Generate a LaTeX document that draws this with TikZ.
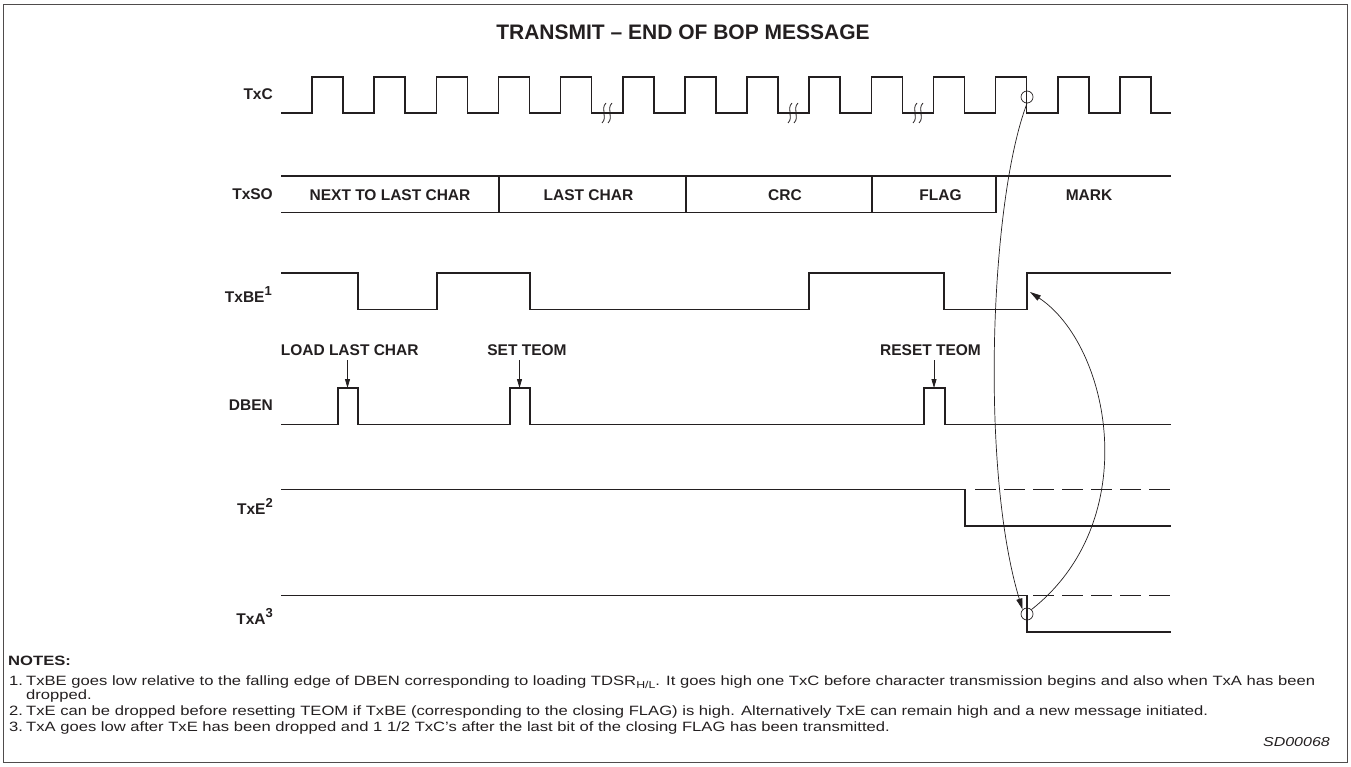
\documentclass[tikz,border=0pt]{standalone}
\usepackage{fontspec}
\setmainfont{Liberation Sans}
\newfontfamily\notefont[FakeStretch=1.23]{Liberation Sans}
\usepackage{tikz}
\usetikzlibrary{arrows.meta,positioning}
\definecolor{ink}{RGB}{35,31,32}
\tikzset{
	signal/.style={draw=ink, line width=1.6pt, line join=miter},
	sigdash/.style={draw=ink, line width=1.6pt, dash pattern=on 21pt off 8pt},
	signame/.style={anchor=base east, inner sep=0pt, text=ink, font=\fontsize{15.5}{18}\selectfont\bfseries},
	busname/.style={anchor=base, inner sep=0pt, text=ink, font=\fontsize{15.5}{18}\selectfont\bfseries},
	event/.style={anchor=base, inner sep=0pt, text=ink, font=\fontsize{15.5}{18}\selectfont\bfseries},
	note/.style={anchor=base west, inner sep=0pt, text=ink, font=\notefont\fontsize{13.5}{16}\selectfont},
	edgemark/.style={draw=ink, circle, line width=0.7pt, minimum size=12pt, inner sep=0pt},
	cause/.style={draw=ink, line width=0.7pt, -{Triangle[length=11pt,width=6pt]}},
	pointer/.style={draw=ink, line width=0.8pt, -{Triangle[length=9pt,width=5pt]}}
}
% one TxC period, k-th rising edge
\newcommand{\clockcycle}[1]{-- ({312+62.15*#1},112.8) -- ({312+62.15*#1},76.7) -- ({343+62.15*#1},76.7) -- ({343+62.15*#1},112.8)}
% break mark on the low TxC level
\newcommand{\breakmark}[1]{
	\draw[ink, line width=0.8pt] ({#1-1},103) .. controls ({#1-7},109) and ({#1+1},117) .. ({#1-5},123);
	\draw[ink, line width=0.8pt] ({#1+5},103) .. controls ({#1-1},109) and ({#1+7},117) .. ({#1+1},123);
}
\newcommand{\notemark}[1]{\raisebox{7pt}{\fontsize{13}{13}\selectfont #1}}
\begin{document}
\begin{tikzpicture}[x=1pt, y=-1pt]
			\useasboundingbox (0,0) rectangle (1351,766);
			\draw[line width=0.8pt, ink!80] (3.5,4) rectangle (1347.5,762.5);
			
			\node[anchor=base, inner sep=0pt, text=ink, font=\fontsize{21}{24}\selectfont\bfseries] (title) at (683,39) {TRANSMIT – END OF BOP MESSAGE};
			
			% signal names
			\node[signame] (txc-name) at (273,99) {TxC};
			\node[signame] (txso-name) at (273,199) {TxSO};
			\node[signame] (txbe-name) at (272,302) {TxBE\notemark{1}};
			\node[signame] (dben-name) at (273,410.5) {DBEN};
			\node[signame] (txe-name) at (273,514) {TxE\notemark{2}};
			\node[signame] (txa-name) at (273,624) {TxA\notemark{3}};
			
			% TxC is drawn
			\draw[signal] (281,112.8) \clockcycle{0} \clockcycle{1} \clockcycle{2} \clockcycle{3}
				\clockcycle{4} \clockcycle{5} \clockcycle{6} \clockcycle{7} \clockcycle{8}
				\clockcycle{9} \clockcycle{10} \clockcycle{11} \clockcycle{12} \clockcycle{13}
				-- (1171,112.8);
			\breakmark{607}
			\breakmark{793}
			\breakmark{918}
			
			% TxSO is drawn
			\draw[signal] (281,176) -- (1171,176);
			\draw[signal] (281,212.5) -- (996,212.5);
			\draw[signal] (499,176) -- (499,212.5);
			\draw[signal] (686,176) -- (686,212.5);
			\draw[signal] (872,176) -- (872,212.5);
			\draw[signal] (996,176) -- (996,212.5);
			\node[busname] (bus-next) at (390,200.5) {NEXT TO LAST CHAR};
			\node[busname] (bus-last) at (588.5,200.5) {LAST CHAR};
			\node[busname] (bus-crc) at (785,200.5) {CRC};
			\node[busname] (bus-flag) at (940.5,200.5) {FLAG};
			\node[busname] (bus-mark) at (1089,200.5) {MARK};
			
			% TxBE is drawn
			\draw[signal] (281,272.7) -- (358,272.7) -- (358,309.3) -- (437,309.3) -- (437,272.7)
				-- (530,272.7) -- (530,309.3) -- (809,309.3) -- (809,272.7) -- (944,272.7)
				-- (944,309.3) -- (1027,309.3) -- (1027,272.7) -- (1171,272.7);
			\coordinate (txbe-rise) at (1030,292);
			
			% DBEN is drawn
			\draw[signal] (281,424.5) -- (338,424.5) -- (338,388) -- (358,388) -- (358,424.5)
				-- (510,424.5) -- (510,388) -- (530,388) -- (530,424.5) -- (924,424.5)
				-- (924,388) -- (945,388) -- (945,424.5) -- (1171,424.5);
			\coordinate (load-pulse) at (347.5,388);
			\coordinate (set-pulse) at (519.5,388);
			\coordinate (reset-pulse) at (934,388);
			\node[event] (load-last) at (349.7,355) {LOAD LAST CHAR};
			\node[event] (set-teom) at (527,355) {SET TEOM};
			\node[event] (reset-teom) at (930.5,355) {RESET TEOM};
			\draw[pointer] ([yshift=-5pt]load-last.south -| load-pulse) -- (load-pulse);
			\draw[pointer] ([yshift=-5pt]set-teom.south -| set-pulse) -- (set-pulse);
			\draw[pointer] ([yshift=-5pt]reset-teom.south -| reset-pulse) -- (reset-pulse);
			
			% TxE is drawn
			\draw[signal] (281,489.5) -- (965,489.5) -- (965,526) -- (1171,526);
			\draw[sigdash] (975,489.5) -- (1171,489.5);
			
			% TxA is drawn
			\draw[signal] (281,595.5) -- (1027,595.5) -- (1027,632) -- (1171,632);
			\draw[sigdash] (1033,595.5) -- (1171,595.5);
			
			% edge relations
			\node[edgemark] (txc-mark) at (1027,97) {};
			\node[edgemark] (txa-mark) at (1027,614) {};
			\draw[cause] (txc-mark.south) .. controls (990,200) and (980,470) .. (txa-mark.north west);
			\draw[cause] (txa-mark.north east) .. controls (1145,520) and (1110,345) .. (txbe-rise);
			
			% notes
			\node[note, font=\notefont\fontsize{13.5}{16}\selectfont\bfseries] (notes-head) at (8,665) {NOTES:};
			\node[note] (note-1-num) at (9,685) {1.};
			\node[note] (note-1) at (26,685) {TxBE goes low relative to the falling edge of DBEN corresponding to loading TDSR\raisebox{-3pt}{\fontsize{10}{10}\selectfont H/L}. It goes high one TxC before character transmission begins and also when TxA has been};
			\node[note] (note-1-cont) at (26,699) {dropped.};
			\node[note] (note-2-num) at (9,715) {2.};
			\node[note] (note-2) at (26,715) {TxE can be dropped before resetting TEOM if TxBE (corresponding to the closing FLAG) is high. Alternatively TxE can remain high and a new message initiated.};
			\node[note] (note-3-num) at (9,731) {3.};
			\node[note] (note-3) at (26,731) {TxA goes low after TxE has been dropped and 1 1/2 TxC’s after the last bit of the closing FLAG has been transmitted.};
			\node[anchor=base east, inner sep=0pt, text=ink, font=\notefont\fontsize{13}{16}\selectfont\itshape] (fig-id) at (1330,746) {SD00068};
\end{tikzpicture}
\end{document}
